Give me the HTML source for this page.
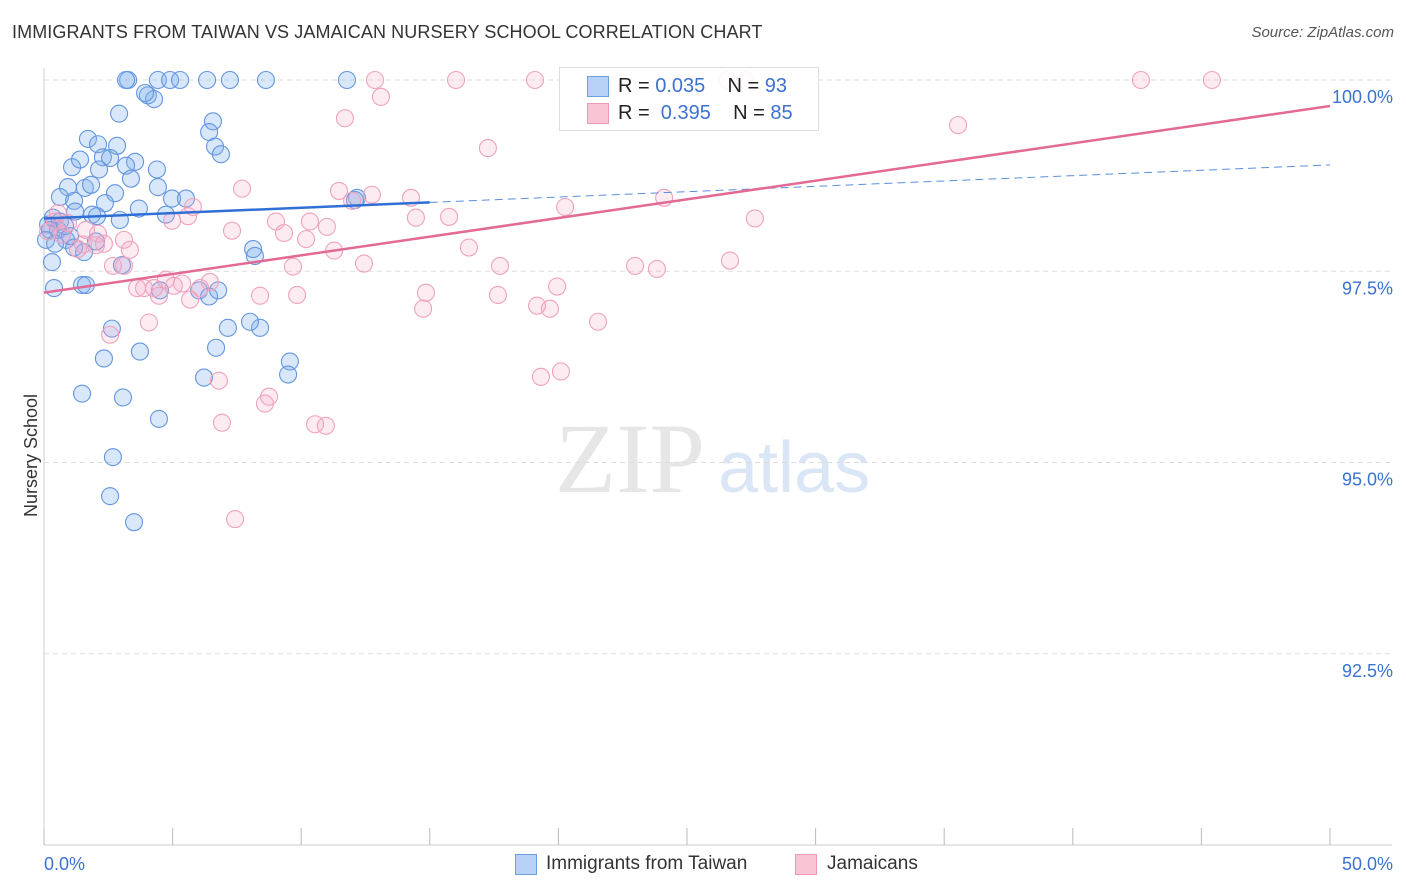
<!DOCTYPE html>
<html><head><meta charset="utf-8"><style>
body{margin:0;background:#fff;font-family:"Liberation Sans",sans-serif;}
#c{position:relative;width:1406px;height:892px;overflow:hidden;}
.t{position:absolute;white-space:nowrap;}
</style></head><body>
<div id="c">
<div class="t" style="left:12px;top:22px;font-size:18px;color:#333;letter-spacing:0.1px;">IMMIGRANTS FROM TAIWAN VS JAMAICAN NURSERY SCHOOL CORRELATION CHART</div>
<div class="t" style="right:12px;top:24px;font-size:15px;color:#555;font-style:italic;">Source: ZipAtlas.com</div>
<div class="t" style="left:-30px;top:445px;font-size:18px;color:#333;transform:rotate(-90deg);">Nursery School</div>
<svg id="s" width="1406" height="892" style="position:absolute;left:0;top:0"></svg>
<div style="position:absolute;left:559px;top:67px;width:258px;height:62px;border:1px solid #ddd;background:rgba(255,255,255,0.9);">
<div style="position:absolute;left:27px;top:8px;width:20px;height:19px;background:#b8d2f6;border:1px solid #6d9fe0;"></div>
<div style="position:absolute;left:27px;top:35px;width:20px;height:19px;background:#f9c4d4;border:1px solid #ee9ab6;"></div>
<div class="t" style="left:58px;top:7px;font-size:20px;color:#222;">R = <span style="color:#3b72d0">0.035</span>&nbsp;&nbsp;&nbsp; N = <span style="color:#3b72d0">93</span></div>
<div class="t" style="left:58px;top:34px;font-size:20px;color:#222;">R = &nbsp;<span style="color:#3b72d0">0.395</span>&nbsp;&nbsp;&nbsp; N = <span style="color:#3b72d0">85</span></div>
</div>
<div style="position:absolute;left:515px;top:854px;width:20px;height:19px;background:#b8d2f6;border:1px solid #6d9fe0;"></div>
<div class="t" style="left:546px;top:853px;font-size:19px;color:#333;">Immigrants from Taiwan</div>
<div style="position:absolute;left:795px;top:854px;width:20px;height:19px;background:#f9c4d4;border:1px solid #ee9ab6;"></div>
<div class="t" style="left:827px;top:853px;font-size:19px;color:#333;">Jamaicans</div>
</div>
<script>
const yTicks=[100,97.5,95,92.5];
const yTickLabels=["100.0%","97.5%","95.0%","92.5%"];
const xLabels=["0.0%","50.0%"];
const blueX=[3.27,3.19,4.43,4.90,5.29,6.34,7.23,8.63,11.78,4.04,4.28,3.93,2.92,6.57,6.42,1.71,2.10,2.84,6.65,6.88,1.09,1.40,2.29,2.57,3.54,4.39,3.19,2.14,3.38,0.93,1.59,1.83,2.76,4.43,0.62,1.17,2.37,4.98,5.52,12.17,12.09,3.69,4.74,2.95,1.87,2.06,1.21,0.35,0.16,0.54,0.86,2.02,1.17,1.56,0.31,8.13,8.20,3.03,0.39,1.48,1.63,6.03,6.42,6.77,4.51,7.15,2.64,8.40,8.01,6.69,3.73,2.33,9.56,9.49,6.22,1.48,3.07,4.47,2.68,2.57,3.50,0.23,0.08,0.62,1.01,0.82,0.43];
const blueY=[100,100,100,100,100,100,100,100,100,99.80,99.75,99.83,99.56,99.46,99.32,99.23,99.16,99.14,99.13,99.03,98.86,98.96,98.99,98.98,98.93,98.83,98.88,98.83,98.71,98.60,98.59,98.63,98.52,98.60,98.47,98.42,98.39,98.45,98.45,98.46,98.43,98.32,98.24,98.17,98.24,98.22,98.28,98.20,98.11,98.04,97.91,97.89,97.81,97.75,97.62,97.79,97.70,97.58,97.28,97.32,97.32,97.25,97.17,97.25,97.25,96.76,96.75,96.76,96.84,96.50,96.45,96.36,96.32,96.15,96.11,95.90,95.85,95.57,95.07,94.56,94.22,98.04,97.91,98.15,97.96,98.09,97.86];
const pinkX=[12.87,16.02,19.09,26.56,27.26,42.65,45.41,13.10,11.70,17.26,35.54,7.70,11.47,12.75,14.27,11.98,15.75,14.46,20.26,24.11,27.64,5.79,5.60,4.98,9.02,7.31,9.33,10.34,11.00,10.19,11.28,16.52,12.44,3.11,3.34,2.10,1.32,2.68,3.11,9.68,17.73,22.98,23.83,26.67,4.74,5.37,6.45,3.62,3.89,4.28,4.47,5.05,6.07,8.40,9.84,14.85,17.65,19.95,14.74,19.17,19.67,21.54,4.08,2.57,6.80,8.75,8.59,19.32,20.10,6.92,10.54,10.96,7.43,0.54,0.93,0.16,0.43,0.70,1.52,1.63,2.02,2.33,5.68];
const pinkY=[100,100,100,100,100,100,100,99.78,99.50,99.11,99.41,98.58,98.55,98.50,98.46,98.42,98.21,98.20,98.34,98.46,98.19,98.34,98.22,98.16,98.15,98.03,98.00,98.15,98.08,97.92,97.77,97.81,97.60,97.91,97.78,97.99,97.79,97.57,97.57,97.56,97.57,97.57,97.53,97.64,97.39,97.34,97.36,97.28,97.28,97.28,97.18,97.31,97.28,97.18,97.19,97.22,97.19,97.30,97.01,97.05,97.01,96.84,96.83,96.67,96.07,95.86,95.77,96.12,96.19,95.52,95.50,95.48,94.26,98.26,98.13,98.02,98.15,97.98,97.85,98.04,97.84,97.86,97.13];
const blueTrend=[98.19,98.89];
const blueSolidEnd=15;
const pinkTrend=[97.22,99.66];

const X0=44,X1=1330,YT=80,YB=845;
function sx(v){return X0+(v/50)*(X1-X0);}
function sy(v){return YB-(v-90)/10*(YB-YT);}
const NS="http://www.w3.org/2000/svg";
const svg=document.getElementById('s');
function mk(tag,attrs,name){const e=document.createElementNS(NS,tag);for(const k in attrs)e.setAttribute(k,attrs[k]);


svg.appendChild(e);return e;}
let w=mk('text',{x:555,y:492,'font-size':100,'font-family':'Liberation Serif,serif',fill:'#e6e6e6'},'watermark-zip');w.textContent='ZIP';
w=mk('text',{x:718,y:492,'font-size':72,'font-family':'Liberation Sans,sans-serif',fill:'#dae6f6'},'watermark-atlas');w.textContent='atlas';
yTicks.forEach((t,i)=>{
mk('line',{x1:X0,x2:1392,y1:sy(t),y2:sy(t),stroke:'#ddd','stroke-dasharray':'5,4'},'y-gridline');
const l=mk('text',{x:1393,y:sy(t)+23,'text-anchor':'end','font-size':18,fill:'#3b72d0','font-family':'Liberation Sans,sans-serif'},'y-tick-label');l.textContent=yTickLabels[i];
});
mk('line',{x1:X0,x2:X0,y1:68,y2:YB,stroke:'#ccc'},'y-axis');
mk('line',{x1:X0,x2:1392,y1:YB,y2:YB,stroke:'#ccc'},'x-axis');
for(let i=0;i<=10;i++){mk('line',{x1:sx(i*5),x2:sx(i*5),y1:828,y2:YB,stroke:'#bbb'},'x-tick');}
let xl=mk('text',{x:44,y:870,'font-size':18,fill:'#3b72d0','font-family':'Liberation Sans,sans-serif'},'x-tick-label-min');xl.textContent=xLabels[0];
xl=mk('text',{x:1393,y:870,'text-anchor':'end','font-size':18,fill:'#3b72d0','font-family':'Liberation Sans,sans-serif'},'x-tick-label-max');xl.textContent=xLabels[1];
blueX.forEach((x,i)=>mk('circle',{cx:sx(x),cy:sy(blueY[i]),r:8.5,fill:'rgba(130,175,240,0.3)',stroke:'#6396df','stroke-width':1.1},'point-taiwan'));
pinkX.forEach((x,i)=>mk('circle',{cx:sx(x),cy:sy(pinkY[i]),r:8.5,fill:'rgba(245,165,195,0.22)',stroke:'#f0a2bd','stroke-width':1.1},'point-jamaicans'));
function ty(tr,x){return tr[0]+(tr[1]-tr[0])*x/50;}
mk('line',{x1:sx(0),y1:sy(ty(blueTrend,0)),x2:sx(blueSolidEnd),y2:sy(ty(blueTrend,blueSolidEnd)),stroke:'#2f6fd6','stroke-width':2.5},'trend-taiwan');
mk('line',{x1:sx(blueSolidEnd),y1:sy(ty(blueTrend,blueSolidEnd)),x2:sx(50),y2:sy(ty(blueTrend,50)),stroke:'#5a8fdc','stroke-width':1,'stroke-dasharray':'8,5'},'trend-taiwan-extension');
mk('line',{x1:sx(0),y1:sy(pinkTrend[0]),x2:sx(50),y2:sy(pinkTrend[1]),stroke:'#e26a95','stroke-width':2.5},'trend-jamaicans');
</script>
</body></html>
